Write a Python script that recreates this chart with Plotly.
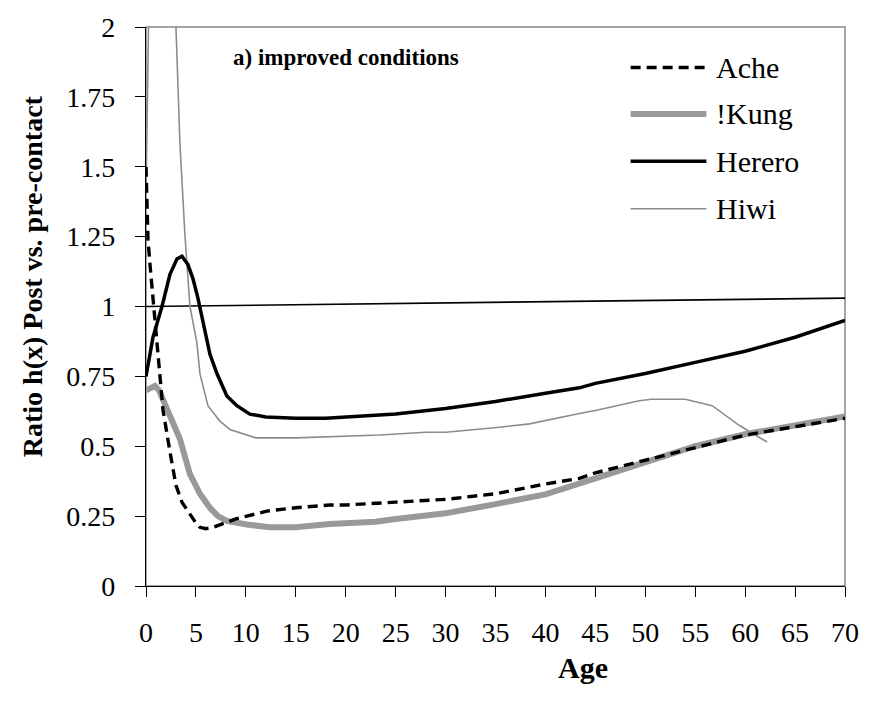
import plotly.graph_objects as go

# ---------------- data ----------------
ache_age = [0, 0.2, 0.4, 0.6, 0.8, 1.0, 1.2, 1.7, 2.4, 3.0, 3.6, 4.3, 5.0, 5.4, 6.0, 6.7, 7.5, 8.1, 9,
            10.1, 12.1, 15, 18.4, 20, 23.4, 25, 30, 35, 40, 43.4, 45, 50, 55, 60, 65, 70]
ache_val = [1.5, 1.24, 1.15, 1.07, 0.98, 0.885, 0.80, 0.63, 0.48, 0.36, 0.30, 0.26, 0.225, 0.21, 0.205,
            0.21, 0.22, 0.226, 0.24, 0.25, 0.268, 0.28, 0.29, 0.29, 0.295, 0.30, 0.31, 0.33, 0.365, 0.385,
            0.405, 0.45, 0.495, 0.54, 0.57, 0.60]

kung_age = [0, 0.5, 0.9, 1.3, 1.7, 2.5, 3.4, 4.4, 5.4, 6.4, 7.2, 8.1, 9, 10.1, 12.4, 15, 18.4, 20, 23, 25,
            28.4, 30, 35, 40, 45, 50, 55, 60, 65, 70]
kung_val = [0.70, 0.71, 0.716, 0.70, 0.667, 0.60, 0.526, 0.40, 0.33, 0.28, 0.25, 0.233, 0.225, 0.22, 0.21,
            0.21, 0.222, 0.225, 0.23, 0.24, 0.25, 0.26, 0.293, 0.328, 0.385, 0.445, 0.50, 0.543, 0.575, 0.607]

herero_age = [0, 0.7, 1.6, 2.4, 3.1, 3.6, 4.2, 4.7, 5.2, 5.7, 6.4, 7.1, 8.1, 9.1, 10.4, 12, 15, 18, 20,
              23.4, 25, 30, 35, 40, 43.4, 45, 50, 55, 60, 65, 70]
herero_val = [0.75, 0.89, 1.0, 1.115, 1.17, 1.18, 1.15, 1.10, 1.03, 0.95, 0.83, 0.76, 0.68, 0.645, 0.615,
              0.605, 0.60, 0.60, 0.605, 0.614, 0.615, 0.635, 0.66, 0.69, 0.709, 0.725, 0.76, 0.80, 0.84,
              0.89, 0.95]

hiwi_age = [0, 0.2, 0.5, 1.5, 2.5, 3.0, 3.4, 3.9, 4.4, 5.1, 5.4, 6.2, 7.4, 8.4, 10.1, 11, 15, 20, 23.4,
            28, 30, 35.4, 38.4, 43.4, 45, 49.4, 50.6, 54, 56.7, 59.4, 62.2]
hiwi_val = [1.40, 2.0, 2.6, 2.9, 2.4, 2.0, 1.58, 1.256, 1.0, 0.87, 0.76, 0.645, 0.59, 0.56, 0.54, 0.53,
            0.53, 0.535, 0.54, 0.55, 0.55, 0.568, 0.58, 0.617, 0.628, 0.663, 0.668, 0.668, 0.645, 0.575,
            0.515]

ref_age = [0, 70]
ref_val = [1.0, 1.03]

series_names = ["Ache", "!Kung", "Herero", "Hiwi"]
y_tickvals = [0, 0.25, 0.5, 0.75, 1, 1.25, 1.5, 1.75, 2]
y_ticktext = ["0", "0.25", "0.5", "0.75", "1", "1.25", "1.5", "1.75", "2"]
x_tickvals = list(range(0, 71, 5))

# ---------------- styles ----------------
FONT = "Liberation Serif"
styles = {
    "Ache": dict(color="black", width=3.4, dash="10px,6px"),
    "!Kung": dict(color="#999999", width=6),
    "Herero": dict(color="black", width=3.5),
    "Hiwi": dict(color="#8c8c8c", width=1.6),
}

fig = go.Figure()
fig.add_trace(go.Scatter(x=ref_age, y=ref_val, mode="lines",
                         line=dict(color="black", width=1.6), showlegend=False, hoverinfo="skip"))
for name, xs, ys in [("Hiwi", hiwi_age, hiwi_val), ("!Kung", kung_age, kung_val),
                     ("Herero", herero_age, herero_val), ("Ache", ache_age, ache_val)]:
    fig.add_trace(go.Scatter(x=xs, y=ys, mode="lines", name=name, line=styles[name],
                             showlegend=False))

W, H = 871, 715
L, R, T, B = 146, 24, 20, 129
pw, ph = W - L - R, H - T - B

def px_x(p):
    return (p - L) / pw

def px_y(p):
    return (H - B - p) / ph

# manual legend
leg_y = [61, 108, 156, 204]
for name, yy in zip(series_names, leg_y):
    st = styles[name]
    fig.add_shape(type="line", xref="paper", yref="paper",
                  x0=px_x(632), x1=px_x(708), y0=px_y(yy), y1=px_y(yy),
                  line=dict(color=st["color"], width=st["width"], dash=st.get("dash", "solid")))
    fig.add_annotation(xref="paper", yref="paper", x=px_x(716), y=px_y(yy), text=name,
                       showarrow=False, xanchor="left", yanchor="middle",
                       font=dict(family=FONT, size=30, color="black"))

# grey plot border (top / right)
fig.add_shape(type="rect", xref="paper", yref="paper", x0=0, x1=1, y0=0, y1=1,
              line=dict(color="#888888", width=1.5), layer="below")

fig.add_annotation(xref="paper", yref="paper", x=px_x(231), y=px_y(51),
                   text="<b>a) improved conditions</b>", showarrow=False,
                   xanchor="left", yanchor="middle",
                   font=dict(family=FONT, size=23, color="black"))

fig.add_annotation(xref="paper", yref="paper", x=px_x(33), y=px_y(272),
                   text="<b>Ratio h(x) Post vs. pre-contact</b>", showarrow=False, textangle=-90,
                   xanchor="center", yanchor="middle",
                   font=dict(family=FONT, size=28, color="black"))
fig.add_annotation(xref="paper", yref="paper", x=px_x(584), y=px_y(669),
                   text="<b>Age</b>", showarrow=False, xanchor="center", yanchor="middle",
                   font=dict(family=FONT, size=30, color="black"))

fig.update_layout(
    width=W, height=H,
    margin=dict(l=L, r=R, t=T, b=B, pad=0),
    plot_bgcolor="white", paper_bgcolor="white",
    font=dict(family=FONT, size=28, color="black"),
    showlegend=False,
)
fig.update_xaxes(range=[0, 70], tickvals=x_tickvals, ticks="outside", ticklen=10,
                 tickcolor="black", tickwidth=1, showline=True, linecolor="black", linewidth=1.2,
                 showgrid=False, zeroline=False, ticklabelstandoff=11,
                 tickfont=dict(family=FONT, size=28, color="black"))
fig.update_yaxes(range=[0, 2], tickvals=y_tickvals, ticktext=y_ticktext, ticks="outside", ticklen=10,
                 tickcolor="black", tickwidth=1, showline=True, linecolor="black", linewidth=1.2,
                 showgrid=False, zeroline=False, ticklabelstandoff=14,
                 tickfont=dict(family=FONT, size=28, color="black"))

fig.write_html("out.html")
